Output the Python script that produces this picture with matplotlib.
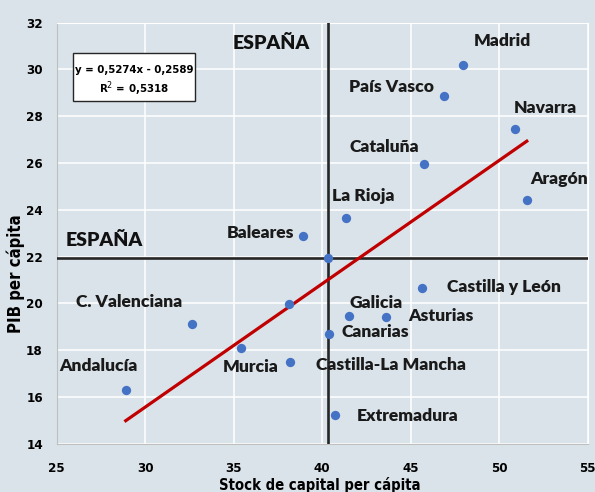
import matplotlib.pyplot as plt
from matplotlib.patches import Rectangle

# datos (stock de capital per cápita, PIB per cápita)
regiones = ['Madrid', 'País Vasco', 'Navarra', 'Cataluña', 'Aragón', 'La Rioja',
            'Baleares', 'Castilla y León', 'Galicia', 'Asturias', 'Canarias',
            'Castilla-La Mancha', 'Extremadura', 'C. Valenciana', 'Murcia',
            'Andalucía', 'Cantabria']
stock = [47.94, 46.86, 50.88, 45.73, 51.56, 41.37, 38.94, 45.66, 41.5, 43.62,
         40.39, 38.2, 40.71, 32.64, 35.43, 28.9, 38.1]
pib = [30.19, 28.86, 27.44, 25.95, 24.4, 23.67, 22.9, 20.65, 19.47, 19.43,
       18.71, 17.48, 15.24, 19.13, 18.08, 16.3, 19.97]
espana_x = 40.3
espana_y = 21.95
pendiente = 0.5274
constante = -0.2589
r2 = 0.5318

# posición de las etiquetas (x izquierda, y centro)
etiquetas = {
    'Madrid': (48.56, 31.22), 'País Vasco': (41.5, 29.23), 'Navarra': (50.8, 28.36),
    'Cataluña': (41.52, 26.69), 'Aragón': (51.75, 25.31), 'La Rioja': (40.56, 24.58),
    'Baleares': (34.62, 23.0), 'Castilla y León': (47.07, 20.72), 'Galicia': (41.52, 20.03),
    'Asturias': (44.84, 19.44), 'Canarias': (41.07, 18.77),
    'Castilla-La Mancha': (39.67, 17.37), 'Extremadura': (41.98, 15.2),
    'C. Valenciana': (26.09, 20.05), 'Murcia': (34.39, 17.27), 'Andalucía': (25.15, 17.34),
}

bg = '#dae3e9'
etiq_font = ['Lato', 'DejaVu Sans']
cond = dict(family='DejaVu Sans', fontstretch='condensed', fontweight='bold')

fig = plt.figure(figsize=(5.95, 4.92), dpi=100, facecolor=bg)
ax = fig.add_axes([0.0953, 0.0982, 0.8924, 0.8557], facecolor=bg)

ax.set_xlim(25, 55)
ax.set_ylim(14, 32)
ax.set_xticks(range(25, 56, 5))
ax.set_yticks(range(14, 33, 2))
ax.grid(True, color='white', linewidth=1.1)
ax.set_axisbelow(True)
for s in ['top', 'right']:
    ax.spines[s].set_color('white')
for s in ['left', 'bottom']:
    ax.spines[s].set_color('#bfbfbf')
ax.tick_params(length=0)
ax.tick_params(axis='x', pad=13)
ax.tick_params(axis='y', pad=10)
for lab in ax.get_xticklabels() + ax.get_yticklabels():
    lab.set_family('DejaVu Sans')
    lab.set_fontstretch('condensed')
    lab.set_fontweight('bold')
    lab.set_fontsize(9.5)

# líneas de España
ax.axvline(espana_x, color='#262626', linewidth=1.9, zorder=3)
ax.axhline(espana_y, color='#262626', linewidth=1.9, zorder=3)

# recta de regresión
x0, x1 = min(stock), max(stock)
ax.plot([x0, x1], [pendiente * x0 + constante, pendiente * x1 + constante],
        color='#c00000', linewidth=2.3, zorder=4)

ax.scatter(stock + [espana_x], pib + [espana_y], s=45, color='#4472c4', zorder=5,
           linewidths=0)

for nombre, (tx, ty) in etiquetas.items():
    ax.text(tx, ty, nombre, family=etiq_font, fontweight=800, fontsize=12.6,
            color='#1a1a1a', ha='left', va='center', zorder=6)

ax.text(34.92, 31.09, 'ESPAÑA', family=etiq_font, fontweight=800, fontsize=14,
        color='#111111', ha='left', va='center')
ax.text(25.5, 22.7, 'ESPAÑA', family=etiq_font, fontweight=800, fontsize=14,
        color='#111111', ha='left', va='center')

# cuadro de la ecuación
ax.add_patch(Rectangle((0.0307, 0.814), 0.2298, 0.114, transform=ax.transAxes,
                       facecolor='white', edgecolor='#262626', linewidth=1.0, zorder=7))
ax.text(0.1456, 0.888, f'y = {pendiente:.4f}x - {abs(constante):.4f}'.replace('.', ','),
        transform=ax.transAxes, fontsize=8.2, ha='center', va='center', zorder=8, **cond)
ax.text(0.1456, 0.842, f'R$^2$ = {r2:.4f}'.replace('.', ','),
        transform=ax.transAxes, fontsize=8.2, ha='center', va='center', zorder=8, **cond)

ax.set_xlabel('Stock de capital per cápita', fontsize=10.6, va='center', **cond)
ax.set_ylabel('PIB per cápita', fontsize=12, va='center', **cond)
ax.xaxis.set_label_coords(0.496, -0.098)
ax.yaxis.set_label_coords(-0.0775, 0.403)

fig.savefig('out.png', dpi=100, facecolor=bg)
